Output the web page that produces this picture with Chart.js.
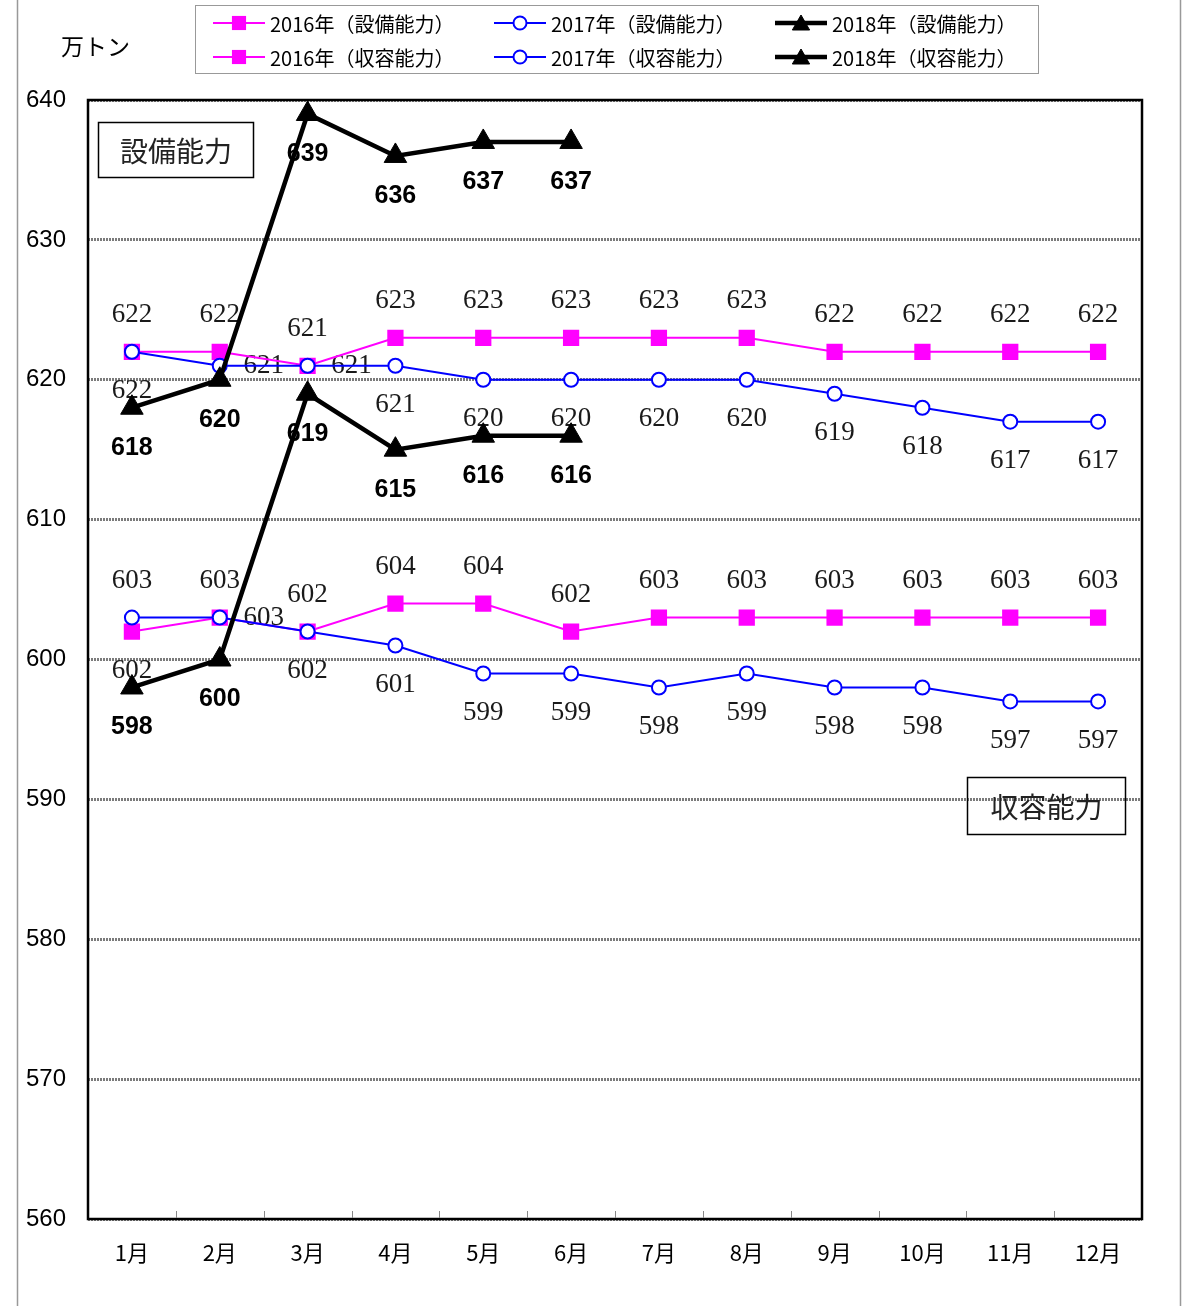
<!DOCTYPE html>
<html>
<head>
<meta charset="utf-8">
<script src="https://cdn.jsdelivr.net/npm/chart.js@4/dist/chart.umd.min.js"></script>
<style>
  html, body { margin: 0; padding: 0; background: #fff; }
  canvas { display: block; }
</style>
</head>
<body>
<canvas id="chartCapacidad" width="1193" height="1306"></canvas>
<script>
// データ(万トン)
const meses = ['1月', '2月', '3月', '4月', '5月', '6月', '7月', '8月', '9月', '10月', '11月', '12月'];
const setsubi2016 = [622, 622, 621, 623, 623, 623, 623, 623, 622, 622, 622, 622];
const setsubi2017 = [622, 621, 621, 621, 620, 620, 620, 620, 619, 618, 617, 617];
const setsubi2018 = [618, 620, 639, 636, 637, 637];
const shuyo2016 = [602, 603, 602, 604, 604, 602, 603, 603, 603, 603, 603, 603];
const shuyo2017 = [603, 603, 602, 601, 599, 599, 598, 599, 598, 598, 597, 597];
const shuyo2018 = [598, 600, 619, 615, 616, 616];
const yMin = 560;
const yMax = 640;
const yStep = 10;

const SANS = '"Noto Sans CJK JP", "Liberation Sans", sans-serif';
const SERIF = '"Liberation Serif", "DejaVu Serif", serif';

const MAGENTA = '#ff00ff';
const AZUL = '#0000ff';
const NEGRO = '#000000';

function serie2016(label, data, lugar) {
    return {
        label, data, lugar,
        borderColor: MAGENTA, backgroundColor: MAGENTA,
        borderWidth: 2, pointStyle: 'rect', pointRadius: 11.5,
        pointBorderWidth: 0, pointBackgroundColor: MAGENTA,
        tension: 0, order: 2, tipo: 'normal'
    };
}
function serie2017(label, data, lugar) {
    return {
        label, data, lugar,
        borderColor: AZUL, backgroundColor: '#fff',
        borderWidth: 2, pointStyle: 'circle', pointRadius: 7,
        pointBorderWidth: 2, pointBorderColor: AZUL, pointBackgroundColor: '#fff',
        tension: 0, order: 1, tipo: 'normal'
    };
}
function serie2018(label, data) {
    return {
        label, data, lugar: {},
        borderColor: NEGRO, backgroundColor: NEGRO,
        borderWidth: 4.5, pointStyle: 'triangle', pointRadius: 13,
        pointBorderWidth: 1, pointBorderColor: NEGRO, pointBackgroundColor: NEGRO,
        tension: 0, order: 0, tipo: 'bold'
    };
}

// posición de etiquetas por punto: a = arriba, b = abajo, d = derecha
const datasets = [
    serie2016('2016年（設備能力）', setsubi2016, { def: 'a' }),
    serie2017('2017年（設備能力）', setsubi2017, { def: 'b', 1: 'd', 2: 'd' }),
    serie2018('2018年（設備能力）', setsubi2018),
    serie2016('2016年（収容能力）', shuyo2016, { def: 'a', 0: 'b' }),
    serie2017('2017年（収容能力）', shuyo2017, { def: 'b', 0: 'a', 1: 'd' }),
    serie2018('2018年（収容能力）', shuyo2018)
];

function radioLeyenda(estilo) {
    if (estilo === 'rect') return 10;
    if (estilo === 'triangle') return 10;
    return 6.5;
}

const etiquetasPlugin = {
    id: 'etiquetas',
    beforeDatasetsDraw(chart) {
        const { ctx, chartArea } = chart;
        ctx.save();
        // marco exterior
        ctx.strokeStyle = '#999';
        ctx.lineWidth = 1.5;
        ctx.beginPath();
        ctx.moveTo(17.5, 0); ctx.lineTo(17.5, 1306);
        ctx.moveTo(1180.5, 0); ctx.lineTo(1180.5, 1306);
        ctx.stroke();

        // marco del área
        ctx.strokeStyle = '#000';
        ctx.lineWidth = 2.5;
        ctx.strokeRect(chartArea.left, chartArea.top, chartArea.right - chartArea.left, chartArea.bottom - chartArea.top);

        // marcas del eje x hacia dentro
        const x = chart.scales.x;
        ctx.strokeStyle = '#888';
        ctx.lineWidth = 1;
        ctx.beginPath();
        for (let i = 1; i < meses.length; i++) {
            const px = Math.round((x.getPixelForValue(i - 1) + x.getPixelForValue(i)) / 2) + 0.5;
            ctx.moveTo(px, chartArea.bottom - 1);
            ctx.lineTo(px, chartArea.bottom - 8);
        }
        ctx.stroke();

        // etiquetas de valores
        ctx.textAlign = 'center';
        ctx.textBaseline = 'middle';
        chart.data.datasets.forEach((ds, i) => {
            const meta = chart.getDatasetMeta(i);
            meta.data.forEach((pt, j) => {
                let dx = 0, dy = 0;
                if (ds.tipo === 'bold') {
                    ctx.font = 'bold 25px "Liberation Sans", sans-serif';
                    ctx.fillStyle = '#000';
                    dy = 40;
                } else {
                    ctx.font = '27px ' + SERIF;
                    ctx.fillStyle = '#1a1a1a';
                    const lugar = ds.lugar[j] || ds.lugar.def;
                    if (lugar === 'a') dy = -37;
                    else if (lugar === 'b') dy = 39;
                    else dx = 44;
                }
                ctx.fillText(String(ds.data[j]), pt.x + dx, pt.y + dy);
            });
        });
        ctx.restore();
    },
    afterDatasetsDraw(chart) {
        const { ctx } = chart;
        ctx.save();
        // cuadros de texto
        const cuadro = (txt, x, y, w, h) => {
            ctx.strokeStyle = '#000';
            ctx.lineWidth = 1.5;
            ctx.strokeRect(x, y, w, h);
            ctx.fillStyle = '#222';
            ctx.font = '28px ' + SANS;
            ctx.textAlign = 'center';
            ctx.textBaseline = 'middle';
            ctx.fillText(txt, x + w / 2, y + h / 2 + 1);
        };
        cuadro('設備能力', 98.5, 122.5, 155, 55);
        cuadro('収容能力', 967.5, 777.5, 158, 57);

        // unidad
        ctx.fillStyle = '#000';
        ctx.font = '23px ' + SANS;
        ctx.textAlign = 'left';
        ctx.textBaseline = 'middle';
        ctx.fillText('万トン', 61, 46);

        // leyenda
        ctx.strokeStyle = '#999';
        ctx.lineWidth = 1;
        ctx.fillStyle = '#fff';
        ctx.fillRect(195.5, 5.5, 843, 68);
        ctx.strokeRect(195.5, 5.5, 843, 68);
        const columnas = [0, 1, 2, 0, 1, 2];
        chart.data.datasets.forEach((ds, i) => {
            const x0 = 213 + columnas[i] * 281;
            const y0 = i < 3 ? 23 : 57;
            ctx.strokeStyle = ds.borderColor;
            ctx.lineWidth = ds.borderWidth;
            ctx.beginPath();
            ctx.moveTo(x0, y0);
            ctx.lineTo(x0 + 52, y0);
            ctx.stroke();
            ctx.fillStyle = ds.pointBackgroundColor;
            ctx.strokeStyle = ds.pointBorderColor || ds.borderColor;
            ctx.lineWidth = ds.pointBorderWidth;
            const yMarca = ds.pointStyle === 'triangle' ? y0 + 2 : y0;
            Chart.helpers.drawPoint(ctx, {
                pointStyle: ds.pointStyle,
                radius: radioLeyenda(ds.pointStyle),
                borderWidth: ds.pointBorderWidth,
                rotation: 0
            }, x0 + 26, yMarca);
            ctx.fillStyle = '#000';
            ctx.font = '20px ' + SANS;
            ctx.textAlign = 'left';
            ctx.textBaseline = 'middle';
            ctx.fillText(ds.label, x0 + 57, y0 + 1);
        });
        ctx.restore();
    }
};

const canvas = document.getElementById('chartCapacidad');
new Chart(canvas.getContext('2d'), {
    type: 'line',
    data: { labels: meses, datasets },
    options: {
        responsive: false,
        devicePixelRatio: 1,
        animation: false,
        layout: { padding: { left: 0, top: 100, right: 51, bottom: 0 } },
        plugins: {
            legend: { display: false },
            tooltip: { enabled: false }
        },
        scales: {
            x: {
                offset: true,
                grid: { display: false },
                border: { display: false },
                ticks: {
                    color: '#000',
                    padding: 12,
                    font: { family: SANS, size: 22 },
                    maxRotation: 0,
                    autoSkip: false
                },
                afterFit(scale) { scale.height = 87; }
            },
            y: {
                min: yMin,
                max: yMax,
                grid: {
                    color: 'rgba(90,90,90,0.8)',
                    lineWidth: 3,
                    drawTicks: false
                },
                border: { display: false, dash: [2, 1] },
                ticks: {
                    stepSize: yStep,
                    color: '#000',
                    padding: 22,
                    font: { family: '"Liberation Sans", sans-serif', size: 24 }
                },
                afterFit(scale) { scale.width = 88; }
            }
        }
    },
    plugins: [etiquetasPlugin]
});
</script>
</body>
</html>
